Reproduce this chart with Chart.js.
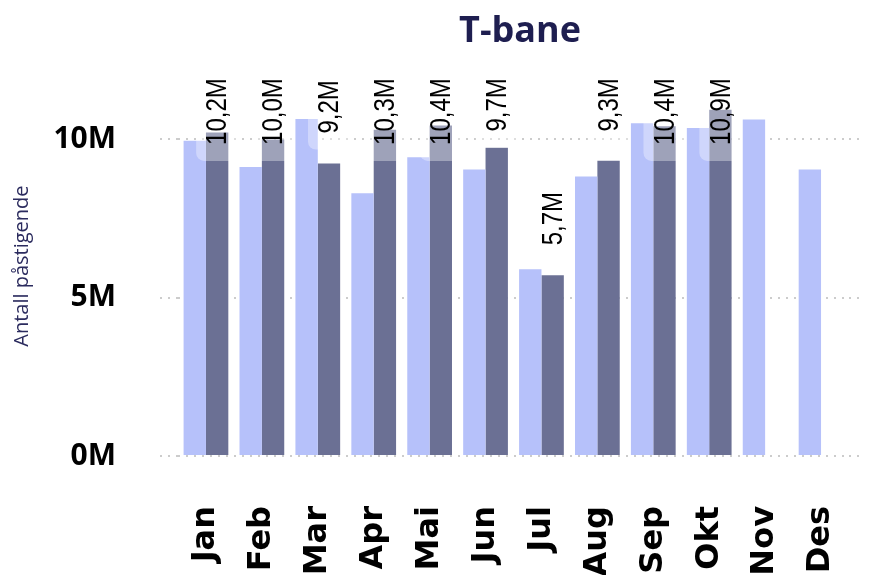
<!DOCTYPE html>
<html>
<head>
<meta charset="utf-8">
<script src="https://cdn.jsdelivr.net/npm/chart.js@4"></script>
<style>
  html, body { margin: 0; padding: 0; background: #ffffff; }
  #wrap { width: 885px; height: 575px; }
</style>
</head>
<body>
<div id="wrap"><canvas id="c" width="885" height="575"></canvas></div>
<script>
const titleText = 'T-bane';
const yAxisTitle = 'Antall påstigende';
const months = ['Jan', 'Feb', 'Mar', 'Apr', 'Mai', 'Jun', 'Jul', 'Aug', 'Sep', 'Okt', 'Nov', 'Des'];
// values in millions
const previousYear = [9.96, 9.13, 10.65, 8.30, 9.44, 9.05, 5.90, 8.83, 10.51, 10.36, 10.63, 9.05];
const currentYear = [10.22, 10.00, 9.24, 10.31, 10.44, 9.74, 5.71, 9.33, 10.42, 10.94, null, null];
const yTicks = [0, 5, 10];

const fmt = v => v.toFixed(1).replace('.', ',') + 'M';

const keepTicks = axis => { axis.ticks = axis.ticks.filter(t => yTicks.includes(t.value)); };

const titlePlacement = {
  id: 'titlePlacement',
  afterLayout(chart) {
    const tb = chart.titleBlock;
    if (tb) { tb.left = chart.chartArea.left; tb.right = chart.scales.y2.right; }
  }
};

const LABEL_SQUEEZE = 0.8;
const barLabels = {
  id: 'barLabels',
  afterDatasetsDraw(chart) {
    const ctx = chart.ctx;
    const area = chart.chartArea;
    const meta = chart.getDatasetMeta(1);
    ctx.save();
    ctx.font = '30px "Liberation Sans", Arial, sans-serif';
    meta.data.forEach((bar, i) => {
      const v = currentYear[i];
      if (v == null) return;
      const text = fmt(v);
      const w = ctx.measureText(text).width * LABEL_SQUEEZE;
      const bottom = Math.max(bar.y - 30, area.top + 2 + w);
      ctx.fillStyle = 'rgba(255,255,255,0.35)';
      ctx.beginPath();
      ctx.roundRect(bar.x - 21, bottom - w - 16, 42, w + 32, 8);
      ctx.fill();
      ctx.save();
      ctx.translate(bar.x + 1, bottom);
      ctx.rotate(-Math.PI / 2);
      ctx.scale(LABEL_SQUEEZE, 1);
      ctx.fillStyle = '#000000';
      ctx.textAlign = 'left';
      ctx.textBaseline = 'middle';
      ctx.fillText(text, 0, 0);
      ctx.restore();
    });
    ctx.restore();
    // wider tracking for the month labels, drawn right after this hook
    if ('letterSpacing' in ctx) ctx.letterSpacing = '3px';
  },
  afterDraw(chart) {
    if ('letterSpacing' in chart.ctx) chart.ctx.letterSpacing = '0px';
  }
};

new Chart(document.getElementById('c'), {
  type: 'bar',
  data: {
    labels: months,
    datasets: [
      { label: 'I fjor', data: previousYear, backgroundColor: '#b6c1fa', borderWidth: 0 },
      { label: 'I år', data: currentYear, backgroundColor: '#6b7094', borderWidth: 0 }
    ]
  },
  options: {
    responsive: false,
    animation: false,
    layout: { padding: { left: 8, right: 23, top: 8, bottom: 0 } },
    datasets: { bar: { categoryPercentage: 0.8, barPercentage: 1.0 } },
    plugins: {
      legend: { display: false },
      tooltip: { enabled: false },
      title: {
        display: true,
        text: titleText,
        color: '#1e1e50',
        font: { family: '"Open Sans", sans-serif', size: 36, weight: 'bold' },
        padding: { top: 2, bottom: 23 }
      }
    },
    scales: {
      x: {
        z: 1,
        afterFit: axis => { axis.height = 119; axis.paddingLeft = 0; axis.paddingRight = 0; },
        grid: { display: false },
        border: { display: false },
        ticks: {
          color: '#000000',
          maxRotation: 90, minRotation: 90,
          padding: 42,
          font: { family: '"DejaVu Sans", sans-serif', size: 32, weight: 'bold' }
        }
      },
      y: {
        min: 0, max: 12,
        afterBuildTicks: keepTicks,
        afterFit: axis => { axis.width = 170; },
        border: { display: false, dash: [2, 6] },
        grid: { color: '#cccccc', lineWidth: 2, tickLength: 18, tickBorderDash: [2, 6] },
        ticks: {
          stepSize: 5,
          padding: 44,
          color: '#000000',
          font: { family: '"Open Sans", sans-serif', size: 30, weight: 'bold' },
          callback: v => v + 'M'
        },
        title: {
          display: true,
          text: yAxisTitle,
          color: '#2b2b5e',
          font: { family: '"Open Sans", sans-serif', size: 20 },
          padding: { top: 2, bottom: 4 }
        }
      },
      y2: {
        position: 'right',
        min: 0, max: 12,
        afterBuildTicks: keepTicks,
        afterFit: axis => { axis.width = 13; },
        border: { display: false },
        grid: { drawOnChartArea: false, color: '#cccccc', lineWidth: 2, tickLength: 13, tickBorderDash: [2, 6] },
        ticks: { display: false, stepSize: 5 }
      }
    }
  },
  plugins: [titlePlacement, barLabels]
});
</script>
</body>
</html>
